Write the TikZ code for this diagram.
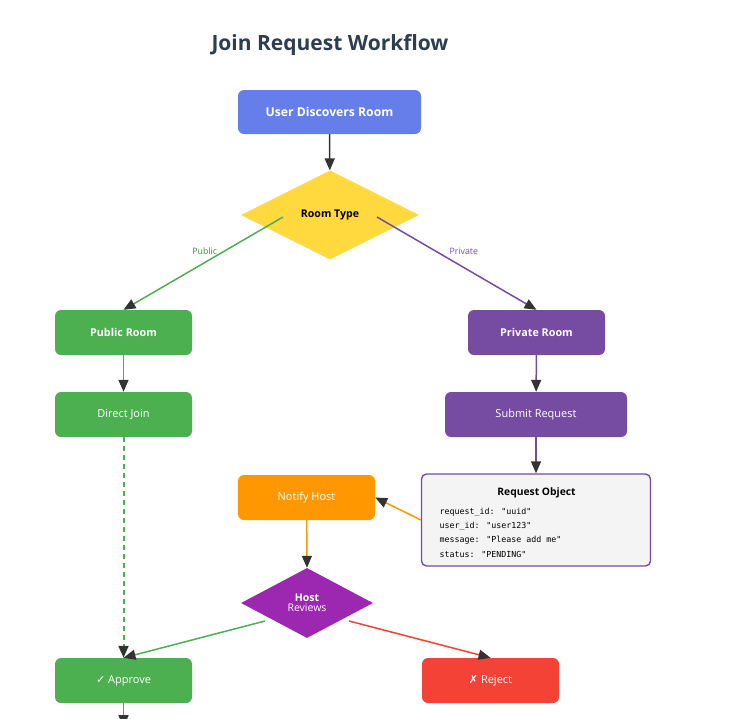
\documentclass[tikz,border=0pt]{standalone}
\usepackage{fontspec}
\setmainfont{Open Sans}
\newfontfamily\symfont{DejaVu Sans}
\newfontfamily\codefont{DejaVu Sans Mono}
\usetikzlibrary{arrows.meta,shapes.geometric,calc}
\definecolor{cblue}{HTML}{667EEA}
\definecolor{cyellow}{HTML}{FFD93D}
\definecolor{cgreen}{HTML}{4CAF50}
\definecolor{cpurple}{HTML}{764BA2}
\definecolor{corange}{HTML}{FF9800}
\definecolor{cmag}{HTML}{9C27B0}
\definecolor{cred}{HTML}{F44336}
\definecolor{ctitle}{HTML}{2C3E50}
\definecolor{chead}{HTML}{333333}
\definecolor{cbox}{HTML}{F4F4F4}
\tikzset{
  box/.style={rectangle, rounded corners=6pt, minimum width=137pt, minimum height=45pt, inner sep=2pt, text=white, font=\fontsize{11}{13}\selectfont},
  boldbox/.style={box, font=\bfseries\fontsize{10.8}{13}\selectfont},
  dia/.style={diamond, inner sep=0pt, aspect=2},
  edge/.style={line width=1.5pt, -{Triangle[length=12pt,width=10pt,color=chead]}},
  elabel/.style={font=\fontsize{8.8}{10}\selectfont},
  codeline/.style={anchor=west, font=\codefont\fontsize{8.3}{10}\selectfont, inner sep=0pt},
}
\begin{document}
\begin{tikzpicture}[x=1pt,y=-1pt]
\useasboundingbox (0,0) rectangle (746,718);
\node[font=\bfseries\fontsize{21}{24}\selectfont, text=ctitle] (title) at (330,45) {Join Request Workflow};

\node[box, fill=cblue, minimum width=183pt, minimum height=44pt, font=\bfseries\fontsize{12.2}{14}\selectfont] (udr) at (329.5,112) {User Discovers Room};
\node[dia, fill=cyellow, minimum width=178pt, minimum height=89pt, font=\bfseries\fontsize{10.6}{12}\selectfont] (rt) at (330,215) {Room Type};

\node[boldbox, fill=cgreen] (pub) at (123.5,332.5) {Public Room};
\node[box, fill=cgreen] (dj) at (123.5,414.5) {Direct Join};

\node[boldbox, fill=cpurple] (prv) at (536.5,332.5) {Private Room};
\node[box, fill=cpurple, minimum width=182pt] (sr) at (536,414.5) {Submit Request};

\node[rectangle, rounded corners=5pt, draw=cpurple, line width=1.4pt, fill=cbox, minimum width=229pt, minimum height=92pt] (ro) at (536,520) {};
\node[font=\bfseries\fontsize{10.3}{12}\selectfont] (rot) at (536.5,493) {Request Object};
\node[codeline] (l1) at (439.5,512.5) {request\_id: "uuid"};
\node[codeline] (l2) at (439.5,526.5) {user\_id: "user123"};
\node[codeline] (l3) at (439.5,540.5) {message: "Please add me"};
\node[codeline] (l4) at (439.5,554.5) {status: "PENDING"};

\node[box, fill=corange] (nh) at (306.5,497.5) {Notify Host};
\node[dia, fill=cmag, minimum width=132pt, minimum height=70pt, text=white, align=center, font=\fontsize{10.5}{12}\selectfont] (hr) at (307,603) {\textbf{Host}\\[-2pt]Reviews};

\node[box, fill=cgreen] (ap) at (123.5,680.5) {{\symfont\char"2713} Approve};
\node[box, fill=cred] (rj) at (490.5,680.5) {{\symfont\char"2717} Reject};

\coordinate (rtL) at ($(rt)+(-47,2)$);
\coordinate (rtR) at ($(rt)+(47,2)$);
\coordinate (hrL) at ($(hr)+(-42,18)$);
\coordinate (hrR) at ($(hr)+(42,18)$);
\coordinate (apTop) at ($(ap.north)+(0,0)$);
\coordinate (endpt) at ($(ap.south)+(0,24)$);

\draw[edge, chead] (udr) -- (rt);
\draw[edge, draw=cgreen] (rtL) -- (pub.north) node[elabel, pos=0.5, xshift=1.5pt, yshift=12.5pt, text=cgreen!80!black] {Public};
\draw[edge, draw=cpurple] (rtR) -- (prv.north) node[elabel, pos=0.5, xshift=7pt, yshift=12.5pt, text=cpurple] {Private};
\draw[edge, draw=cgreen] (pub) -- (dj);
\draw[edge, draw=cpurple] (prv) -- (sr);
\draw[edge, draw=cpurple] (sr) -- (ro.north);
\draw[edge, draw=cgreen, line width=2pt, dash pattern=on 5pt off 4pt] (dj) -- (apTop);
\draw[edge, draw=corange] (ro.west) -- (nh.east);
\draw[edge, draw=corange] (nh) -- (hr.north);
\draw[edge, draw=cgreen] (hrL) -- (ap.north);
\draw[edge, draw=cred] (hrR) -- (rj.north);
\draw[edge, draw=cgreen] (ap) -- (endpt);
\end{tikzpicture}
\end{document}
